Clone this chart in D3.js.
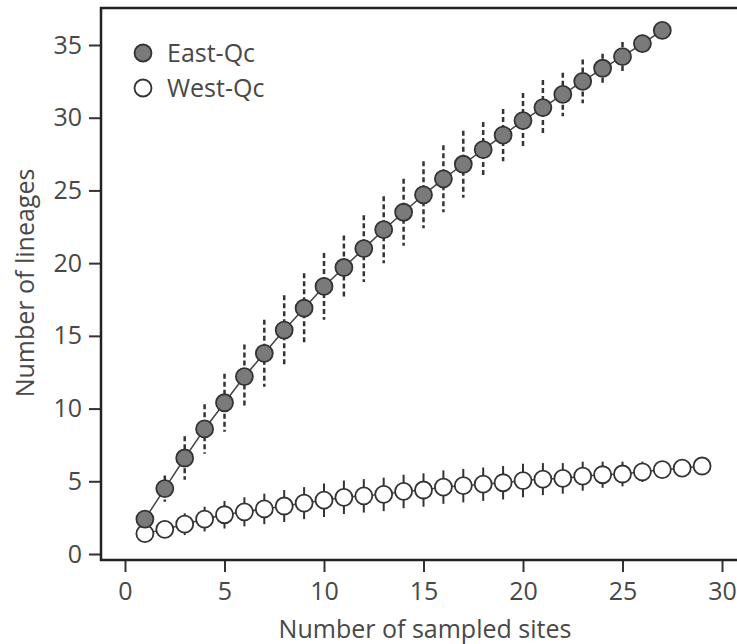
<!DOCTYPE html>
<html>
<head>
<meta charset="utf-8">
<script src="https://cdn.jsdelivr.net/npm/d3@7"></script>
<style>
  body { margin: 0; background: #fff; }
  text { font-family: "Open Sans", "Noto Sans", sans-serif; fill: #484848; }
</style>
</head>
<body>
<svg id="chart" width="737" height="644"></svg>
<script>
"use strict";

// Number of sampled sites (x) for each series
const eastSites = d3.range(1, 28);
const westSites = d3.range(1, 30);

// Mean number of lineages
const eastMean = [2.4, 4.5, 6.6, 8.6, 10.4, 12.2, 13.8, 15.4, 16.9, 18.4,
                  19.7, 21.0, 22.3, 23.5, 24.7, 25.8, 26.8, 27.8, 28.8, 29.8,
                  30.7, 31.6, 32.5, 33.4, 34.2, 35.1, 36.0];
const eastErr  = [0, 0.9, 1.5, 1.7, 2.0, 2.2, 2.3, 2.4, 2.4, 2.3,
                  2.2, 2.3, 2.3, 2.3, 2.3, 2.3, 2.3, 1.9, 1.8, 1.9,
                  1.9, 1.5, 1.5, 1.0, 1.0, 0.6, 0];

const westMean = [1.4, 1.7, 2.05, 2.4, 2.7, 2.9, 3.1, 3.3, 3.5, 3.7,
                  3.9, 4.0, 4.1, 4.3, 4.4, 4.6, 4.7, 4.8, 4.9, 5.05,
                  5.15, 5.2, 5.35, 5.45, 5.5, 5.65, 5.8, 5.9, 6.05];
const westErr  = [0, 0.6, 0.75, 0.85, 0.95, 1.0, 1.05, 1.1, 1.1, 1.15,
                  1.15, 1.15, 1.15, 1.15, 1.15, 1.15, 1.15, 1.15, 1.15, 1.15,
                  1.1, 1.05, 1.0, 0.9, 0.85, 0.7, 0, 0, 0];

const xTicks = [0, 5, 10, 15, 20, 25, 30];
const yTicks = [0, 5, 10, 15, 20, 25, 30, 35];

const legendItems = [
  {label: "East-Qc", fill: "#7a7a7a"},
  {label: "West-Qc", fill: "#ffffff"},
];

const svg = d3.select("#chart");

const frame = {left: 101, top: 8, right: 737, bottom: 560};
const fontSize = 25;

const x = d3.scaleLinear().domain([0, 30]).range([125, 722]);
const y = d3.scaleLinear().domain([0, 35]).range([554, 45]);

// Axes
const xAxis = svg.append("g")
    .attr("transform", `translate(0,${frame.bottom})`)
    .call(d3.axisBottom(x).tickValues(xTicks).tickSize(12).tickPadding(10));
const yAxis = svg.append("g")
    .attr("transform", `translate(${frame.left},0)`)
    .call(d3.axisLeft(y).tickValues(yTicks).tickSize(12).tickPadding(7));

[xAxis, yAxis].forEach(g => {
  g.select(".domain").remove();
  g.selectAll(".tick line").attr("stroke", "#333").attr("stroke-width", 2);
  g.selectAll(".tick text")
    .attr("font-size", fontSize)
    .attr("fill", "#484848")
    .attr("font-family", "\"Open Sans\", \"Noto Sans\", sans-serif");
});

// Frame (left, top, bottom)
svg.append("path")
    .attr("d", `M${frame.right},${frame.top}H${frame.left}V${frame.bottom}H${frame.right}`)
    .attr("fill", "none")
    .attr("stroke", "#222")
    .attr("stroke-width", 2.5);

// Axis titles
svg.append("text")
    .attr("x", 425)
    .attr("y", 638)
    .attr("text-anchor", "middle")
    .attr("font-size", fontSize)
    .text("Number of sampled sites");

svg.append("text")
    .attr("transform", "translate(34,283) rotate(-90)")
    .attr("text-anchor", "middle")
    .attr("font-size", fontSize)
    .text("Number of lineages");

function drawSeries(sites, mean, err, opts) {
  const pts = sites.map((s, i) => ({s: s, m: mean[i], e: err[i]}));

  svg.append("path")
      .datum(pts)
      .attr("fill", "none")
      .attr("stroke", "#444")
      .attr("stroke-width", 1.5)
      .attr("d", d3.line().x(p => x(p.s)).y(p => y(p.m)));

  svg.append("g")
      .selectAll("line")
      .data(pts.filter(p => p.e > 0))
      .enter()
      .append("line")
      .attr("x1", p => x(p.s))
      .attr("x2", p => x(p.s))
      .attr("y1", p => y(p.m + p.e))
      .attr("y2", p => y(p.m - p.e))
      .attr("stroke", "#333")
      .attr("stroke-width", opts.errWidth)
      .attr("stroke-dasharray", opts.dash);

  svg.append("g")
      .selectAll("circle")
      .data(pts)
      .enter()
      .append("circle")
      .attr("cx", p => x(p.s))
      .attr("cy", p => y(p.m))
      .attr("r", 8.5)
      .attr("fill", opts.fill)
      .attr("stroke", "#333")
      .attr("stroke-width", 1.8);
}

drawSeries(westSites, westMean, westErr, {fill: "#ffffff", errWidth: 2, dash: null});
drawSeries(eastSites, eastMean, eastErr, {fill: "#7a7a7a", errWidth: 2.5, dash: "5,3"});

// Legend
const legend = svg.append("g").attr("transform", "translate(143,53)");
legendItems.forEach((item, i) => {
  const row = legend.append("g").attr("transform", `translate(0,${i * 35})`);
  row.append("circle")
      .attr("r", 8.5)
      .attr("fill", item.fill)
      .attr("stroke", "#333")
      .attr("stroke-width", 1.8);
  row.append("text")
      .attr("x", 24)
      .attr("y", 9)
      .attr("font-size", fontSize)
      .text(item.label);
});
</script>
</body>
</html>
